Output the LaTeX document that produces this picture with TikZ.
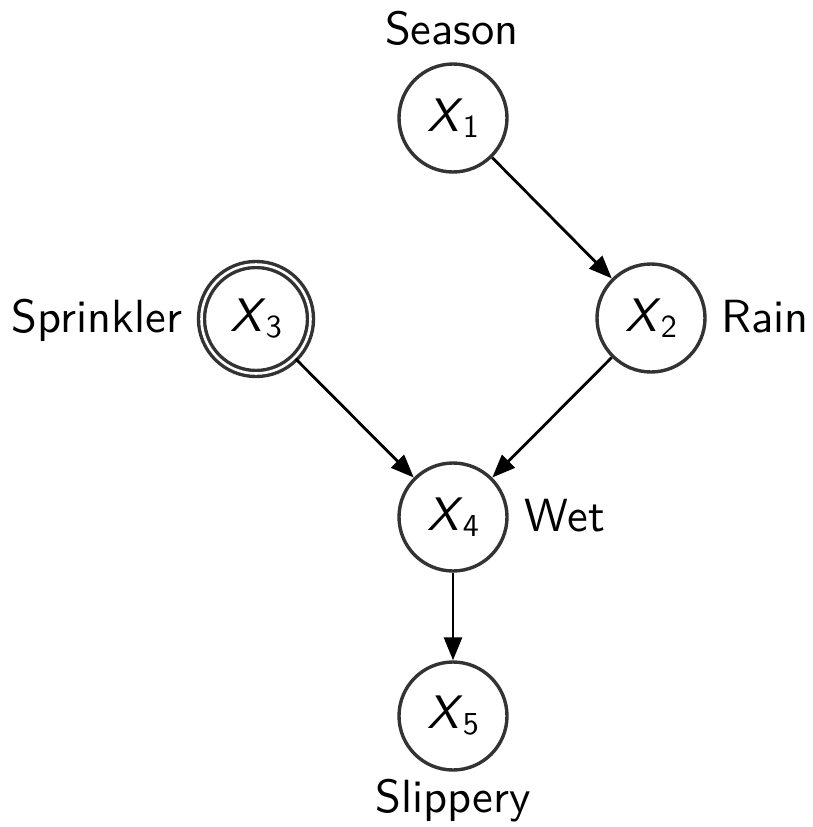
\documentclass[tikz,border=0pt]{standalone}
\usepackage{fontspec}
% Latin Modern Sans at its 10pt design size, scaled up
\setsansfont{lmsans10-regular.otf}[SlantedFont=lmsans10-oblique.otf, ItalicFont=lmsans10-oblique.otf]
\usetikzlibrary{arrows.meta}
\definecolor{ringgray}{HTML}{333333}
% variable name: slanted sans X with a lowered index
\newcommand{\varX}[1]{\textsl{X}\raisebox{-6pt}{\fontsize{32}{36}\selectfont #1}}
\begin{document}
\begin{tikzpicture}[x=1pt,y=-1pt,
  var/.style={circle, draw=ringgray, line width=3.4pt, minimum size=108pt,
    inner sep=0pt, font=\sffamily\fontsize{47}{50}\selectfont},
  observed/.style={var, double, double distance=2.6pt, minimum size=109pt},
  lbl/.style={anchor=base, inner sep=0pt, font=\sffamily\fontsize{46.5}{52}\selectfont},
  edge/.style={line width=2.8pt, black, -{Triangle[length=23pt,width=18pt]}}]
\useasboundingbox (0,0) rectangle (813,827);

% variables
\node[var] (x1) at (453,118) {\varX{1}};
\node[var] (x2) at (651,318) {\varX{2}};
\node[observed] (x3) at (256,319) {\varX{3}};
\node[var] (x4) at (453,517) {\varX{4}};
\node[var] (x5) at (453,716) {\varX{5}};

% names
\node[lbl] (season) at (452,44) {Season};
\node[lbl] (rain) at (765,332) {Rain};
\node[lbl] (sprinkler) at (97,332) {Sprinkler};
\node[lbl] (wet) at (565,531) {Wet};
\node[lbl] (slippery) at (453,812) {Slippery};

% dependencies
\draw[edge] (x1) -- (x2);
\draw[edge] (x2) -- (x4);
\draw[edge] (x3) -- (x4);
\draw[edge] (x4) -- (x5);
\end{tikzpicture}
\end{document}
